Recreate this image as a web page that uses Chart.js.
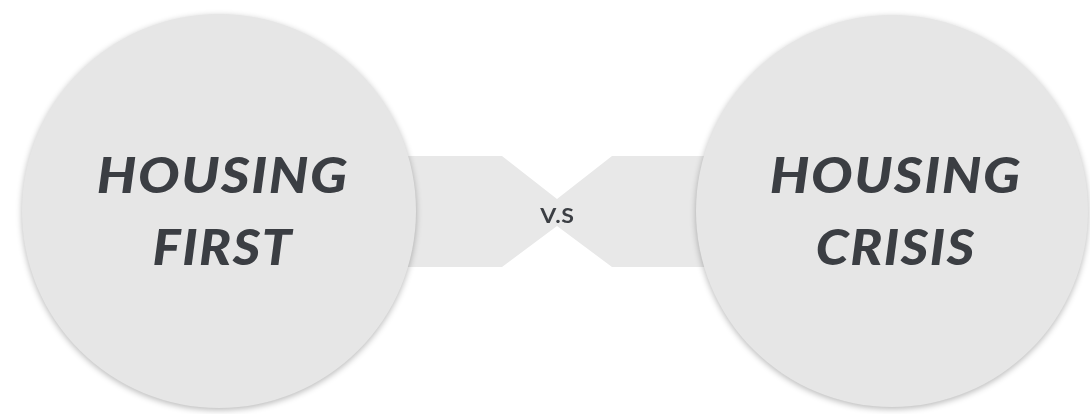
<!DOCTYPE html>
<html>
<head>
<meta charset="utf-8">
<script src="https://cdn.jsdelivr.net/npm/chart.js@4"></script>
<style>
  html, body { margin: 0; padding: 0; background: #fff; }
  #wrap { width: 1090px; height: 414px; }
</style>
</head>
<body>
<div id="wrap"><canvas id="myChart"></canvas></div>
<script>
// circles (x, y in page units, r in px)
var circleX = [219, 892];
var circleY = [211, 211];
var circleR = [197, 196];
var circleLabels = [['HOUSING', 'FIRST'], ['HOUSING', 'CRISIS']];

// connector band between the circles
var bandX = [219, 502, 557, 612, 892];
var bandTop = [156, 156, 199, 156, 156];
var bandBottom = [267, 267, 226, 267, 267];
var middleLabel = 'V.S';

var circleShadow = {
    id: 'circleShadow',
    beforeDatasetDraw: function (chart, args) {
        if (args.meta.type !== 'bubble') return;
        var ctx = chart.ctx;
        ctx.save();
        ctx.shadowColor = 'rgba(0,0,0,0.28)';
        ctx.shadowBlur = 6;
        ctx.shadowOffsetX = 0;
        ctx.shadowOffsetY = 2;
    },
    afterDatasetDraw: function (chart, args) {
        if (args.meta.type !== 'bubble') return;
        chart.ctx.restore();
    }
};

// centred text, stretched a little wider (the original face is broader than Lato)
function wideText(ctx, str, x, y, stretch, spacing) {
    ctx.save();
    ctx.translate(x, y);
    ctx.scale(stretch, 1);
    ctx.letterSpacing = spacing + 'px';
    ctx.fillText(str, spacing / 2, 0);
    ctx.restore();
}

var textLabels = {
    id: 'textLabels',
    afterDatasetsDraw: function (chart) {
        var ctx = chart.ctx;
        var xs = chart.scales.x, ys = chart.scales.y;
        ctx.save();
        ctx.fillStyle = '#3b3e43';
        ctx.strokeStyle = '#3b3e43';
        ctx.textAlign = 'center';
        ctx.textBaseline = 'alphabetic';
        ctx.font = 'italic 900 50px Lato';
        for (var i = 0; i < circleX.length; i++) {
            var cx = xs.getPixelForValue(circleX[i]) + 3;
            var cy = ys.getPixelForValue(circleY[i]);
            wideText(ctx, circleLabels[i][0], cx, cy - 18, 1.1, 1.5);
            wideText(ctx, circleLabels[i][1], cx, cy + 54, 1.06, 1.5);
        }
        ctx.font = 'bold 21px Lato';
        var mx = xs.getPixelForValue(bandX[2]);
        var my = ys.getPixelForValue((bandTop[2] + bandBottom[2]) / 2);
        wideText(ctx, middleLabel, mx, my + 10, 1.1, 0.5);
        ctx.restore();
    }
};

var ctx = document.getElementById('myChart');

var myChart = new Chart(ctx, {
    type: 'bubble',
    data: {
        datasets: [{
            type: 'line',
            data: bandX.map(function (x, i) { return { x: x, y: bandTop[i] }; }),
            borderWidth: 0,
            borderColor: 'rgba(0,0,0,0)',
            pointRadius: 0,
            tension: 0,
            fill: false,
            clip: false,
            order: 3
        }, {
            type: 'line',
            data: bandX.map(function (x, i) { return { x: x, y: bandBottom[i] }; }),
            borderWidth: 0,
            borderColor: 'rgba(0,0,0,0)',
            backgroundColor: '#e8e8e8',
            pointRadius: 0,
            tension: 0,
            fill: '-1',
            clip: false,
            order: 2
        }, {
            type: 'bubble',
            data: circleX.map(function (x, i) { return { x: x, y: circleY[i], r: circleR[i] }; }),
            backgroundColor: '#e6e6e6',
            borderWidth: 0,
            hoverRadius: 0,
            clip: false,
            order: 1
        }]
    },
    options: {
        responsive: true,
        maintainAspectRatio: false,
        animation: false,
        layout: { padding: 0, autoPadding: false },
        plugins: {
            legend: { display: false },
            tooltip: { enabled: false }
        },
        events: [],
        scales: {
            x: { type: 'linear', min: 0, max: 1090, display: false },
            y: { type: 'linear', min: 0, max: 414, reverse: true, display: false }
        }
    },
    plugins: [circleShadow, textLabels]
});
</script>
</body>
</html>
